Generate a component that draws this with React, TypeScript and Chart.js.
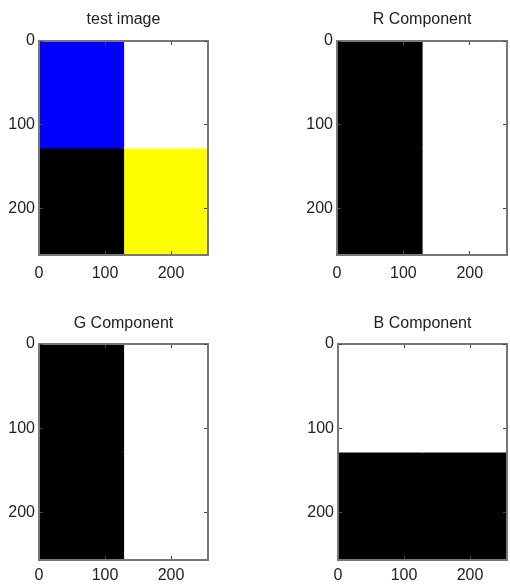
import React, { useEffect, useRef } from 'react';
import { Chart, registerables } from 'chart.js';

Chart.register(...registerables);

// ---- data ----
const cellEdges = [0, 128, 256];
const xTickValues = [0, 100, 200];
const yTickValues = [0, 100, 200];
// test image pixels [R, G, B], top row first
const testImageTopRow = [[0, 0, 255], [255, 255, 255]];
const testImageBottomRow = [[0, 0, 0], [255, 255, 0]];
const panelTitles = ['test image', 'R Component', 'G Component', 'B Component'];
const panelChannels: (number | null)[] = [null, 0, 1, 2];

// ---- layout / style ----
const FONT = "'Liberation Sans', Arial, sans-serif";
const TEXT = '#222';
const AXIS = '#777';
const TICK = '#444';

type PanelLayout = {
  left: number; top: number; w: number; h: number;
  area: { l: number; r: number; t: number; b: number };
  titlePad: number; xLabelPad: number;
};

const layouts: PanelLayout[] = [
  { left: 0, top: 0, w: 255, h: 293, area: { l: 39, r: 208, t: 41, b: 255 }, titlePad: 10, xLabelPad: 13 },
  { left: 255, top: 0, w: 255, h: 293, area: { l: 82, r: 252, t: 41, b: 255 }, titlePad: 10, xLabelPad: 13 },
  { left: 0, top: 293, w: 255, h: 293, area: { l: 39, r: 208, t: 51, b: 267 }, titlePad: 21, xLabelPad: 10 },
  { left: 255, top: 293, w: 255, h: 293, area: { l: 83, r: 252, t: 51, b: 267 }, titlePad: 21, xLabelPad: 10 },
];

function colorOf(px: number[], ch: number | null) {
  if (ch === null) return `rgb(${px[0]},${px[1]},${px[2]})`;
  const v = px[ch];
  return `rgb(${v},${v},${v})`;
}

function setTicks(values: number[]) {
  return (s: any) => {
    s.ticks = values.map((v) => ({ value: v }));
  };
}

function makeConfig(pi: number): any {
  const L = layouts[pi];
  const ch = panelChannels[pi];
  const rows = [testImageTopRow, testImageBottomRow];
  const datasets: any[] = [];
  rows.forEach((row, r) =>
    row.forEach((px, c) => {
      datasets.push({
        data: [{ x: (cellEdges[c] + cellEdges[c + 1]) / 2, y: [cellEdges[r], cellEdges[r + 1]] }],
        backgroundColor: colorOf(px, ch),
        borderWidth: 0,
        inflateAmount: 0.6,
        barPercentage: 1,
        categoryPercentage: 1,
        xAxisID: 'xb',
        yAxisID: 'y',
      });
    })
  );

  const lo = cellEdges[0];
  const hi = cellEdges[cellEdges.length - 1];
  const tickFont = { family: FONT, size: 16 };
  const grid = {
    display: true,
    drawOnChartArea: false,
    drawTicks: true,
    tickLength: -4,
    tickColor: TICK,
    tickWidth: 1,
    offset: false,
    z: 1,
  };
  const border = { display: true, color: AXIS, width: 2, z: 1 };

  return {
    type: 'bar',
    data: { datasets },
    options: {
      animation: false,
      responsive: false,
      devicePixelRatio: 1,
      layout: { padding: 0 },
      plugins: { legend: { display: false }, tooltip: { enabled: false }, title: { display: false } },
      scales: {
        xb: {
          type: 'linear', display: false, min: lo, max: hi, offset: false, stacked: true,
          afterBuildTicks: setTicks(cellEdges),
        },
        x: {
          type: 'linear', position: 'bottom', min: lo, max: hi, offset: false,
          grid, border,
          ticks: { font: tickFont, color: TEXT, padding: L.xLabelPad, autoSkip: false, maxRotation: 0, z: 1 },
          afterBuildTicks: setTicks(xTickValues),
          afterFit: (s: any) => { s.height = L.h - L.area.b; },
        },
        x2: {
          type: 'linear', position: 'top', min: lo, max: hi, offset: false,
          grid, border,
          ticks: { display: false },
          afterBuildTicks: setTicks(xTickValues),
          title: {
            display: true, text: panelTitles[pi], color: TEXT,
            font: { family: FONT, size: 16 },
            padding: { top: L.titlePad, bottom: 0 },
          },
          afterFit: (s: any) => { s.height = L.area.t; },
        },
        y: {
          type: 'linear', position: 'left', reverse: true, min: lo, max: hi, offset: false,
          grid, border,
          ticks: { font: tickFont, color: TEXT, padding: 8, autoSkip: false, z: 1 },
          afterBuildTicks: setTicks(yTickValues),
          afterFit: (s: any) => { s.width = L.area.l; },
        },
        y2: {
          type: 'linear', position: 'right', reverse: true, min: lo, max: hi, offset: false,
          grid, border,
          ticks: { display: false },
          afterBuildTicks: setTicks(yTickValues),
          afterFit: (s: any) => { s.width = L.w - L.area.r; },
        },
      },
    },
  };
}

function Panel({ index }: { index: number }) {
  const ref = useRef<HTMLCanvasElement | null>(null);
  const L = layouts[index];
  useEffect(() => {
    if (!ref.current) return;
    const chart = new Chart(ref.current, makeConfig(index));
    return () => chart.destroy();
  }, [index]);
  return (
    <canvas
      ref={ref}
      width={L.w}
      height={L.h}
      style={{ position: 'absolute', left: L.left, top: L.top, width: L.w, height: L.h }}
    />
  );
}

export default function App() {
  return (
    <div
      style={{
        position: 'absolute', left: 0, top: 0, width: 510, height: 586,
        background: '#fff', overflow: 'hidden',
      }}
    >
      {layouts.map((_, i) => (
        <Panel key={i} index={i} />
      ))}
    </div>
  );
}
